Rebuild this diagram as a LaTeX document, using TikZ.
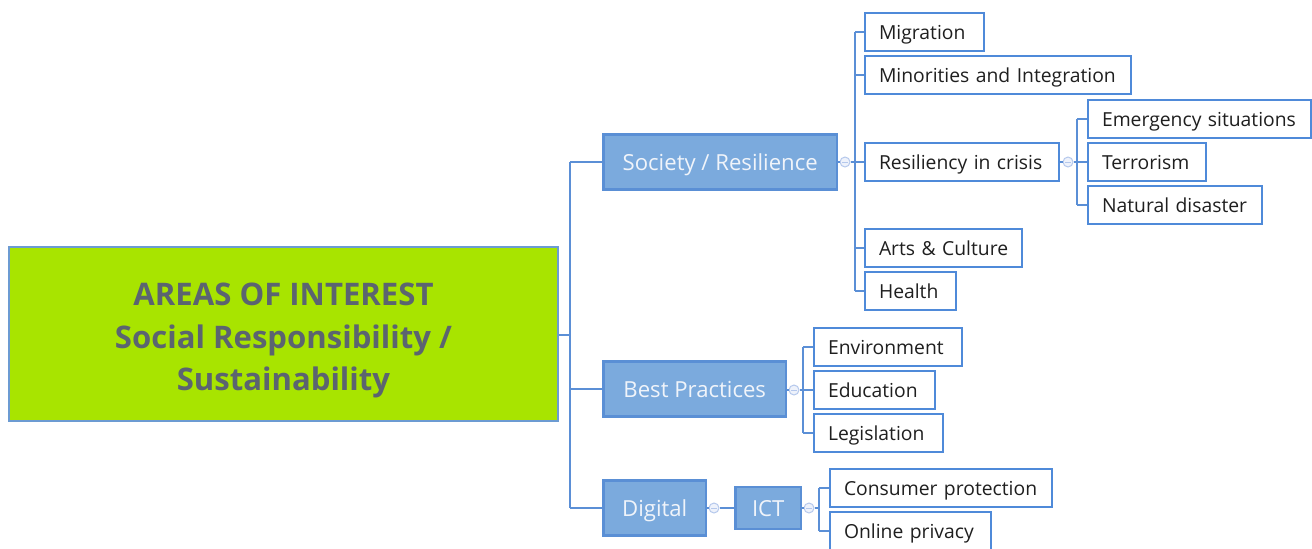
\documentclass[tikz,border=0pt]{standalone}
\usepackage{fontspec}
\setmainfont{Open Sans}
\usetikzlibrary{positioning}
\definecolor{rootfill}{HTML}{A8E400}
\definecolor{rootline}{HTML}{6C9BD2}
\definecolor{roottext}{HTML}{5B6470}
\definecolor{mainfill}{HTML}{7BAADD}
\definecolor{mainline}{HTML}{5A8FD5}
\definecolor{maintext}{HTML}{F0F4FA}
\definecolor{leafline}{HTML}{4F8AD9}
\definecolor{leaftext}{HTML}{1F1F1F}
\definecolor{connline}{HTML}{5B8FD6}
\definecolor{collfill}{HTML}{EEF2FB}
\definecolor{collline}{HTML}{B5C8EC}
\tikzset{
  rootbox/.style={draw=rootline, line width=0.04cm, fill=rootfill,
    minimum width=10.98cm, minimum height=3.48cm, inner sep=0pt},
  roottitle/.style={text=roottext, font=\fontsize{17.7}{24.4}\selectfont\bfseries,
    align=center, inner sep=0pt},
  mainbox/.style={draw=mainline, line width=0.05cm, fill=mainfill, text=maintext,
    font=\fontsize{12.6}{15}\selectfont, minimum height=1.1cm, inner sep=0pt,
    text height=0.42cm, text depth=0.10cm, anchor=west},
  leafbox/.style={draw=leafline, line width=0.04cm, fill=white, text=leaftext,
    font=\fontsize{11}{13}\selectfont, minimum height=0.76cm, inner xsep=0.28cm,
    inner ysep=0pt, align=left, text width=#1, text height=0.38cm, text depth=0.10cm,
    execute at begin node={\hbox\bgroup}, execute at end node={\egroup}, anchor=west},
  conn/.style={draw=connline, line width=0.04cm},
  coll/.style={circle, draw=collline, fill=collfill, line width=0.02cm,
    minimum size=0.2cm, inner sep=0pt,
    path picture={\draw[collline, line width=0.02cm]
      ([xshift=1.3pt]path picture bounding box.west) --
      ([xshift=-1.3pt]path picture bounding box.east);}}
}
\begin{document}
\begin{tikzpicture}[x=0.02cm, y=-0.02cm]
    \newcommand{\trunkroot}{570}
    \newcommand{\trunksoc}{855}
    \newcommand{\trunkres}{1077}
    \newcommand{\trunkbest}{803}
    \newcommand{\trunkict}{819}
    \useasboundingbox (0,0) rectangle (1312,548);

    \node[rootbox] (root) at (283.5,334) {};
    \node[roottitle] (rootlabel) at ([yshift=-0.13cm]root.center) {AREAS OF INTEREST\\Social Responsibility /\\Sustainability};

    \node[mainbox, minimum width=4.68cm] (soc) at (602,162) {Society / Resilience};
    \node[mainbox, minimum width=3.66cm] (best) at (602,389) {Best Practices};
    \node[mainbox, minimum width=2.06cm] (digi) at (602,508) {Digital};
    \node[mainbox, minimum width=1.32cm, minimum height=0.84cm] (ict) at (734,508) {ICT};

    \node[leafbox=1.82cm] (migr) at (864,32) {Migration};
    \node[leafbox=4.76cm] (minor) at (864,75) {Minorities and Integration};
    \node[leafbox=3.32cm] (resil) at (864,162) {Resiliency in crisis};
    \node[leafbox=2.58cm] (arts) at (864,248) {Arts \& Culture};
    \node[leafbox=1.26cm] (health) at (864,291) {Health};

    \node[leafbox=3.90cm] (emerg) at (1087,119) {Emergency situations};
    \node[leafbox=1.80cm] (terr) at (1087,162) {Terrorism};
    \node[leafbox=2.92cm] (natur) at (1087,205) {Natural disaster};

    \node[leafbox=2.40cm] (envi) at (813,347) {Environment};
    \node[leafbox=1.86cm] (educ) at (813,390) {Education};
    \node[leafbox=2.02cm] (legis) at (813,433) {Legislation};

    \node[leafbox=3.88cm] (cons) at (829,488) {Consumer protection};
    \node[leafbox=2.66cm] (onli) at (829,531) {Online privacy};

    \node[coll] (socC) at (845,162) {};
    \node[coll] (resC) at (1068,162) {};
    \node[coll] (bestC) at (794,390) {};
    \node[coll] (digiC) at (714,508) {};
    \node[coll] (ictC) at (809,508) {};

    \coordinate (rootT) at (\trunkroot,335);
    \coordinate (socT) at (\trunksoc,162);
    \coordinate (resT) at (\trunkres,162);
    \coordinate (bestT) at (\trunkbest,390);
    \coordinate (ictT) at (\trunkict,508);

    \draw[conn] (root.east |- rootT) -- (rootT);
    \draw[conn] (rootT |- soc.west) -- (rootT |- digi.west);
    \draw[conn] (rootT |- soc.west) -- (soc.west);
    \draw[conn] (rootT |- best.west) -- (best.west);
    \draw[conn] (rootT |- digi.west) -- (digi.west);

    \draw[conn] (soc.east) -- (socC.west);
    \draw[conn] (socC.east) -- (socT);
    \draw[conn] (socT |- migr.west) -- (socT |- health.west);
    \draw[conn] (socT |- migr.west) -- (migr.west);
    \draw[conn] (socT |- minor.west) -- (minor.west);
    \draw[conn] (socT) -- (resil.west);
    \draw[conn] (socT |- arts.west) -- (arts.west);
    \draw[conn] (socT |- health.west) -- (health.west);

    \draw[conn] (resil.east) -- (resC.west);
    \draw[conn] (resC.east) -- (resT);
    \draw[conn] (resT |- emerg.west) -- (resT |- natur.west);
    \draw[conn] (resT |- emerg.west) -- (emerg.west);
    \draw[conn] (resT) -- (terr.west);
    \draw[conn] (resT |- natur.west) -- (natur.west);

    \draw[conn] (best.east |- bestC) -- (bestC.west);
    \draw[conn] (bestC.east) -- (bestT);
    \draw[conn] (bestT |- envi.west) -- (bestT |- legis.west);
    \draw[conn] (bestT |- envi.west) -- (envi.west);
    \draw[conn] (bestT) -- (educ.west);
    \draw[conn] (bestT |- legis.west) -- (legis.west);

    \draw[conn] (digi.east) -- (digiC.west);
    \draw[conn] (digiC.east) -- (ict.west);
    \draw[conn] (ict.east) -- (ictC.west);
    \draw[conn] (ictC.east) -- (ictT);
    \draw[conn] (ictT |- cons.west) -- (ictT |- onli.west);
    \draw[conn] (ictT |- cons.west) -- (cons.west);
    \draw[conn] (ictT |- onli.west) -- (onli.west);
\end{tikzpicture}
\end{document}
